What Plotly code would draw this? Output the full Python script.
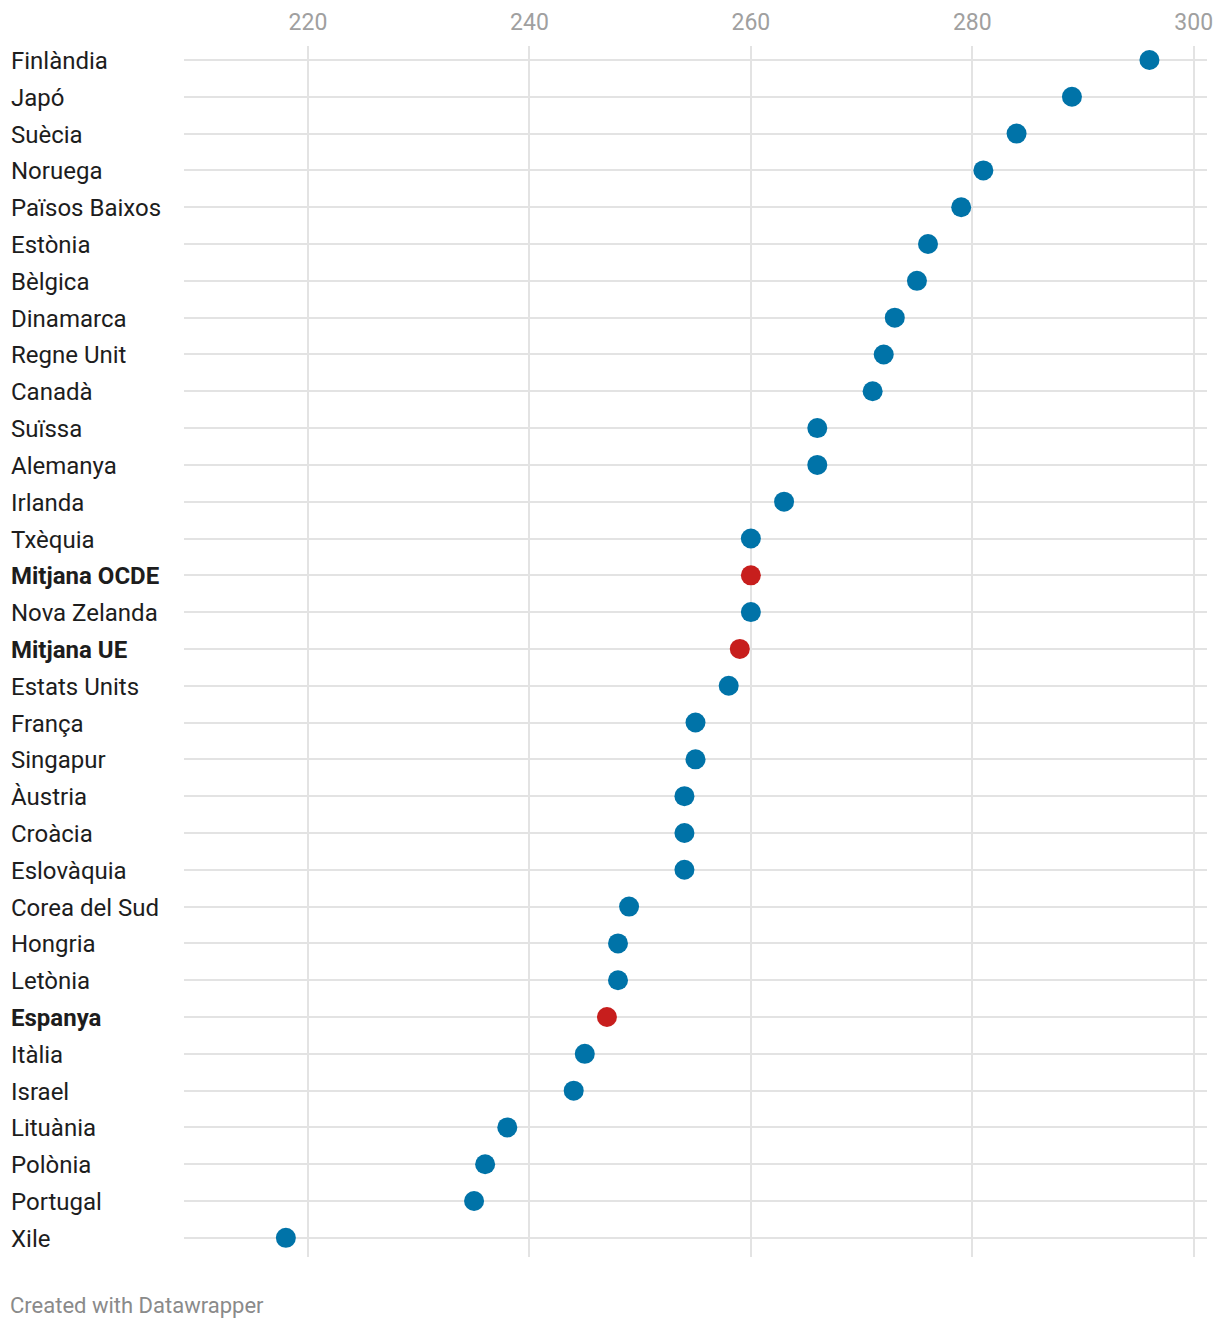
import plotly.graph_objects as go

# Data
countries = [
    "Finlàndia", "Japó", "Suècia", "Noruega", "Països Baixos", "Estònia",
    "Bèlgica", "Dinamarca", "Regne Unit", "Canadà", "Suïssa", "Alemanya",
    "Irlanda", "Txèquia", "Mitjana OCDE", "Nova Zelanda", "Mitjana UE",
    "Estats Units", "França", "Singapur", "Àustria", "Croàcia", "Eslovàquia",
    "Corea del Sud", "Hongria", "Letònia", "Espanya", "Itàlia", "Israel",
    "Lituània", "Polònia", "Portugal", "Xile",
]
scores = [
    296, 289, 284, 281, 279, 276,
    275, 273, 272, 271, 266, 266,
    263, 260, 260, 260, 259,
    258, 255, 255, 254, 254, 254,
    249, 248, 248, 247, 245, 244,
    238, 236, 235, 218,
]
highlighted = ["Mitjana OCDE", "Mitjana UE", "Espanya"]
x_ticks = [220, 240, 260, 280, 300]

BLUE = "#0073a8"
RED = "#c71e1d"
GRID = "#e3e3e3"
FONT = "Roboto"

W, H = 1220, 1328
M_L, M_R, M_T, M_B = 184, 13, 46, 71
plot_w = W - M_L - M_R

rows = list(range(len(countries)))
colors = [RED if c in highlighted else BLUE for c in countries]

fig = go.Figure()
fig.add_trace(go.Scatter(
    x=scores,
    y=rows,
    mode="markers",
    marker=dict(size=20, color=colors, line=dict(width=0)),
    hovertext=countries,
    hoverinfo="text+x",
    showlegend=False,
    cliponaxis=False,
))

# left-aligned country labels
for i, name in enumerate(countries):
    label = f"<b>{name}</b>" if name in highlighted else name
    fig.add_annotation(
        x=-(M_L - 9) / plot_w, xref="paper",
        y=i, yref="y", yshift=-1,
        text=label, showarrow=False,
        xanchor="left", yanchor="middle",
        font=dict(family=FONT, size=24, color="#1d1d1d"),
    )

fig.add_annotation(
    x=-(M_L - 8) / plot_w, xref="paper",
    y=-(1305 - (H - M_B)) / (H - M_T - M_B), yref="paper",
    text="Created with Datawrapper", showarrow=False,
    xanchor="left", yanchor="middle",
    font=dict(family=FONT, size=22, color="#8a8a8a"),
)

fig.update_xaxes(
    range=[208.8, 301.2],
    side="top",
    tickvals=x_ticks,
    showgrid=True, gridcolor=GRID, gridwidth=2,
    zeroline=False, showline=False,
    ticks="", ticklabelstandoff=10,
    automargin=False,
    tickfont=dict(family=FONT, size=23, color="#a0a0a0"),
)
fig.update_yaxes(
    range=[32.52, -0.38],
    tickvals=rows,
    showticklabels=False,
    showgrid=True, gridcolor=GRID, gridwidth=2,
    zeroline=False, showline=False, ticks="",
    automargin=False,
)

fig.update_layout(
    width=W, height=H,
    margin=dict(l=M_L, r=M_R, t=M_T, b=M_B),
    plot_bgcolor="white", paper_bgcolor="white",
    font=dict(family=FONT),
)

# drop the page's default body margin so the chart sits at the window origin
fig.write_html(
    "out.html",
    config={"displayModeBar": False},
    post_script="document.body.style.margin='0';",
)
